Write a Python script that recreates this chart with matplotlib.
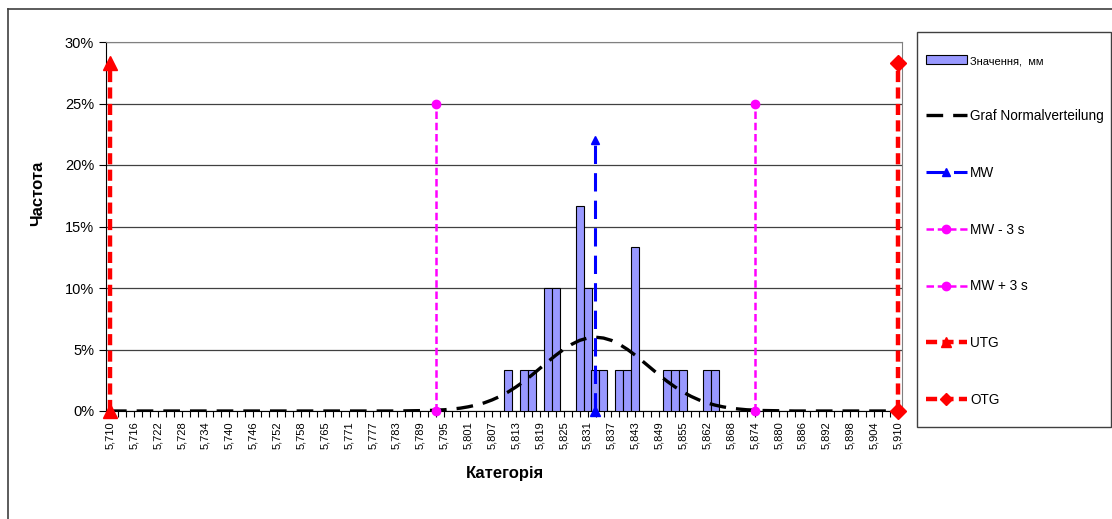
import numpy as np
import matplotlib
matplotlib.use("Agg")
import matplotlib.pyplot as plt
from matplotlib.lines import Line2D
from matplotlib.patches import Patch, Rectangle
from matplotlib.ticker import FixedLocator, PercentFormatter

plt.rcParams["font.family"] = ["Liberation Sans", "DejaVu Sans"]

# 100 histogram classes, 5,710 ... 5,910 mm
x_min, x_max, n_bins = 5.710, 5.910, 100

# tick labels (every third class)
tick_labels = ["5,710", "5,716", "5,722", "5,728", "5,734", "5,740", "5,746",
               "5,752", "5,758", "5,765", "5,771", "5,777", "5,783", "5,789",
               "5,795", "5,801", "5,807", "5,813", "5,819", "5,825", "5,831",
               "5,837", "5,843", "5,849", "5,855", "5,862", "5,868", "5,874",
               "5,880", "5,886", "5,892", "5,898", "5,904", "5,910"]

# measured values (class centre, mm) and their frequency (%)
bar_mm = [5.8110, 5.8150, 5.8171, 5.8211, 5.8231, 5.8292, 5.8312, 5.8332, 5.8352,
          5.8393, 5.8413, 5.8433, 5.8514, 5.8534, 5.8554, 5.8615, 5.8635]
bar_pct = [3.33, 3.33, 3.33, 10.0, 10.0, 16.67, 10.0, 3.33, 3.33,
           3.33, 3.33, 13.33, 3.33, 3.33, 3.33, 3.33, 3.33]

# normal distribution curve (%), one value per class
norm_pct = ([0.0] * 37 +
            [0.01, 0.02, 0.03, 0.04, 0.07, 0.10, 0.16, 0.23, 0.34, 0.48, 0.66, 0.90,
             1.19, 1.54, 1.95, 2.41, 2.92, 3.46, 4.00, 4.53, 5.01, 5.42, 5.74, 5.93,
             6.00,
             5.93, 5.74, 5.42, 5.01, 4.53, 4.00, 3.46, 2.92, 2.41, 1.95, 1.54, 1.19,
             0.90, 0.66, 0.48, 0.34, 0.23, 0.16, 0.10, 0.07, 0.04, 0.03, 0.02, 0.01] +
            [0.0] * 14)

# limits (mm) and line heights (%)
mw, mw_minus, mw_plus = 5.8332, 5.7928, 5.8736
utg, otg = 5.710, 5.910
mw_h, s_h, tol_h = 22.0, 25.0, 28.3

step = (x_max - x_min) / (n_bins - 1)
centers = np.linspace(x_min, x_max, n_bins)

fig = plt.figure(figsize=(11.12, 5.19), dpi=100)
W, H = 1112, 519
ax = fig.add_axes([106 / W, 1 - 411 / H, (902 - 106) / W, (411 - 42) / H])

# outer chart frame (only left/top visible)
fig.add_artist(Line2D([8 / W, 8 / W], [0, 1 - 9 / H], color="#404040", lw=1.2,
                      transform=fig.transFigure))
fig.add_artist(Line2D([8 / W, 1], [1 - 9 / H, 1 - 9 / H], color="#404040", lw=1.2,
                      transform=fig.transFigure))

ax.bar(bar_mm, bar_pct, width=step, color="#9999FF", edgecolor="black",
       linewidth=0.8, zorder=3)
ax.plot(centers, norm_pct, color="black", lw=2.4, dashes=(5, 3), zorder=4)

# MW
ax.plot([mw, mw], [0, mw_h], color="#0000FF", lw=2.2, dashes=(6, 3), zorder=5)
ax.plot([mw], [0], marker="^", color="#0000FF", ms=7, clip_on=False, zorder=6)
ax.plot([mw], [mw_h], marker="^", color="#0000FF", ms=6, zorder=6)
# MW -/+ 3 s
for v in (mw_minus, mw_plus):
    ax.plot([v, v], [0, s_h], color="#FF00FF", lw=1.8, dashes=(3, 1.5),
            marker="o", ms=6, clip_on=False, zorder=5)
# UTG / OTG
ax.plot([utg, utg], [0, tol_h], color="#FF0000", lw=3.2, dashes=(2.5, 1.2),
        marker="^", ms=10, clip_on=False, zorder=5)
ax.plot([otg, otg], [0, tol_h], color="#FF0000", lw=3.2, dashes=(2.5, 1.2),
        marker="D", ms=8, clip_on=False, zorder=5)

ax.set_xlim(x_min - step / 2, x_max + step / 2)
ax.set_ylim(0, 30)
ax.yaxis.set_major_locator(FixedLocator([0, 5, 10, 15, 20, 25, 30]))
ax.yaxis.set_major_formatter(PercentFormatter(decimals=0))
ax.grid(axis="y", color="#404040", lw=0.9, zorder=0)
ax.set_axisbelow(True)

ax.set_xticks(centers[::3])
ax.set_xticklabels(tick_labels, rotation=90, fontsize=8)
ax.set_xticks(centers, minor=True)
ax.tick_params(axis="x", which="both", length=4, width=0.8, color="black")
ax.tick_params(axis="y", length=5, width=0.8, labelsize=10.5)

for side in ("top", "right"):
    ax.spines[side].set_color("#808080")
for side in ("left", "bottom"):
    ax.spines[side].set_color("black")

ax.set_ylabel("Частота", fontsize=12, fontweight="bold")
ax.yaxis.set_label_coords(-0.076, 0.59)
ax.set_xlabel("Категорія", fontsize=12, fontweight="bold")
ax.xaxis.set_label_coords(0.501, -0.149)

# legend
fig.add_artist(Rectangle((917 / W, 1 - 427 / H), (1111 - 917) / W, (427 - 32) / H,
                         transform=fig.transFigure, facecolor="white",
                         edgecolor="#404040", lw=1.0))
handles = [
    Patch(facecolor="#9999FF", edgecolor="black", lw=0.8),
    Line2D([], [], color="black", lw=2.4, dashes=(5, 3)),
    Line2D([], [], color="#0000FF", lw=2.2, dashes=(6, 3), marker="^", ms=6),
    Line2D([], [], color="#FF00FF", lw=1.8, dashes=(3, 1.5), marker="o", ms=6),
    Line2D([], [], color="#FF00FF", lw=1.8, dashes=(3, 1.5), marker="o", ms=6),
    Line2D([], [], color="#FF0000", lw=3.2, dashes=(2.5, 1.2), marker="^", ms=7),
    Line2D([], [], color="#FF0000", lw=3.2, dashes=(2.5, 1.2), marker="D", ms=6),
]
labels = ["Значення,  мм", "Graf Normalverteilung", "MW", "MW - 3 s", "MW + 3 s",
          "UTG", "OTG"]
leg = fig.legend(handles, labels, loc="upper left",
                 bbox_to_anchor=(915 / W, 1 - 44 / H), frameon=False,
                 fontsize=9.8, handlelength=3.0, handletextpad=0.25,
                 labelspacing=3.14, borderpad=0.3, handleheight=0.7)
leg.get_texts()[0].set_fontsize(8)

fig.savefig("out.png", dpi=100)
